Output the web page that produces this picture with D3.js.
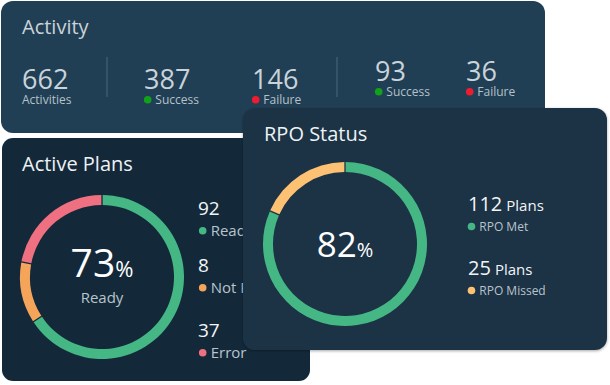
<!DOCTYPE html>
<html>
<head>
<meta charset="utf-8">
<script src="https://cdn.jsdelivr.net/npm/d3@7.9.0/dist/d3.min.js"></script>
<style>
  body { margin: 0; background: #fff; }
  svg { display: block; font-family: "Open Sans", sans-serif; }
</style>
</head>
<body>
<svg width="610" height="385"></svg>
<script>
// activity strip
const activityValues = [662, 387, 146, 93, 36];
const activityLabels = ['Activities', 'Success', 'Failure', 'Success', 'Failure'];
const activityStatus = [null, 'success', 'failure', 'success', 'failure'];

// active plans
const planCategories = ['Ready', 'Not Ready', 'Error'];
const planCounts = [92, 8, 37];
const planRingShare = [66, 12, 22]; // how the ring is split in the picture
const planReadyPct = 73;

// rpo status
const rpoCategories = ['RPO Met', 'RPO Missed'];
const rpoCounts = [112, 25];
const rpoMetPct = 82;

const statusColor = {success: '#12a21a', failure: '#ee1c2e'};
const planColors = ['#45b784', '#f5a55a', '#ef7080'];
const rpoColors = ['#45b784', '#fdc174'];

const svg = d3.select('svg');

const defs = svg.append('defs');
defs.append('filter').attr('id', 'shadow')
    .attr('x', '-10%').attr('y', '-10%').attr('width', '120%').attr('height', '120%')
  .append('feDropShadow')
    .attr('dx', 0).attr('dy', 1).attr('stdDeviation', 1.5)
    .attr('flood-color', '#000').attr('flood-opacity', 0.35);

// ---- Activity panel
const act = svg.append('g');
act.append('rect')
    .attr('x', 1).attr('y', 1).attr('width', 544).attr('height', 132)
    .attr('rx', 12).attr('fill', '#213f54');

act.append('text')
    .attr('x', 22).attr('y', 34)
    .attr('font-size', 20).attr('fill', '#c9d3da')
    .text('Activity');

const activityX = [22, 144, 252, 375, 466];
const activityBase = [89, 89, 89, 81, 81];

[107, 337].forEach(x => {
  act.append('line')
      .attr('x1', x).attr('x2', x).attr('y1', 57).attr('y2', 97)
      .attr('stroke', '#3f5b6f').attr('stroke-width', 1.5);
});

const cells = act.selectAll('g.cell')
  .data(activityValues)
  .join('g')
    .attr('class', 'cell')
    .attr('transform', (d, i) => `translate(${activityX[i]},${activityBase[i]})`);

cells.append('text')
    .attr('font-size', 27).attr('fill', '#c9d3da')
    .text(d => d);

cells.filter((d, i) => activityStatus[i])
  .append('circle')
    .attr('cx', 3.7).attr('cy', 10.7).attr('r', 3.8)
    .attr('fill', (d, i, n) => statusColor[activityStatus[activityValues.indexOf(d)]]);

cells.append('text')
    .attr('x', (d, i) => activityStatus[i] ? 11.3 : 0)
    .attr('y', (d, i) => 15)
    .attr('font-size', 12).attr('fill', '#b5c1ca')
    .text((d, i) => activityLabels[i]);

// ---- Active Plans panel
const ap = svg.append('g');
ap.append('rect')
    .attr('x', 2).attr('y', 138).attr('width', 308).attr('height', 243)
    .attr('rx', 11).attr('fill', '#13293a');

ap.append('text')
    .attr('x', 22).attr('y', 171)
    .attr('font-size', 20).attr('fill', '#eef2f5')
    .text('Active Plans');

const ringArc = d3.arc().innerRadius(72).outerRadius(82);
const planPie = d3.pie().sort(null).padAngle(0.012);

const apRing = ap.append('g').attr('transform', 'translate(102,277)');
apRing.selectAll('path')
  .data(planPie(planRingShare))
  .join('path')
    .attr('d', ringArc)
    .attr('fill', (d, i) => planColors[i]);

const apCenter = apRing.append('text')
    .attr('text-anchor', 'middle').attr('y', 0).attr('fill', '#ffffff');
apCenter.append('tspan').attr('font-size', 39).text(planReadyPct);
apCenter.append('tspan').attr('font-size', 22).text('%');

apRing.append('text')
    .attr('text-anchor', 'middle').attr('y', 26)
    .attr('font-size', 15).attr('fill', '#b8c4cc')
    .text(planReadyPct >= 0 ? planCategories[0] : '');

const planLegendY = [215, 272, 337];
const apLegend = ap.selectAll('g.leg')
  .data(planCounts)
  .join('g')
    .attr('class', 'leg')
    .attr('transform', (d, i) => `translate(198,${planLegendY[i]})`);

apLegend.append('text')
    .attr('font-size', 19).attr('fill', '#f2f5f7')
    .text(d => d);
apLegend.append('circle')
    .attr('cx', 4.7).attr('cy', 15.7).attr('r', 3.8)
    .attr('fill', (d, i) => planColors[i]);
apLegend.append('text')
    .attr('x', 12.7).attr('y', 21)
    .attr('font-size', 15).attr('fill', '#b8c4cc')
    .text((d, i) => planCategories[i]);

// ---- RPO Status panel
const rpo = svg.append('g');
rpo.append('rect')
    .attr('x', 243).attr('y', 108).attr('width', 364).attr('height', 242)
    .attr('rx', 12).attr('fill', '#1e3345')
    .attr('filter', 'url(#shadow)');

rpo.append('text')
    .attr('x', 264).attr('y', 141)
    .attr('font-size', 20).attr('fill', '#eef2f5')
    .text('RPO Status');

const rpoArc = d3.arc().innerRadius(72).outerRadius(82);
const rpoPie = d3.pie().sort(null).padAngle(0.012);

const rpoRing = rpo.append('g').attr('transform', 'translate(345,244)');
rpoRing.selectAll('path')
  .data(rpoPie(rpoCounts))
  .join('path')
    .attr('d', rpoArc)
    .attr('fill', (d, i) => rpoColors[i]);

const rpoCenter = rpoRing.append('text')
    .attr('text-anchor', 'middle').attr('y', 13).attr('fill', '#ffffff');
rpoCenter.append('tspan').attr('font-size', 35).text(rpoMetPct);
rpoCenter.append('tspan').attr('font-size', 20).text('%');

const rpoLegendY = [211, 275];
const rpoLegend = rpo.selectAll('g.leg')
  .data(rpoCounts)
  .join('g')
    .attr('class', 'leg')
    .attr('transform', (d, i) => `translate(468,${rpoLegendY[i]})`);

const rpoNum = rpoLegend.append('text').attr('fill', '#f2f5f7');
rpoNum.append('tspan').attr('font-size', 20).text(d => d);
rpoNum.append('tspan').attr('font-size', 15).attr('dx', 4).text('Plans');

rpoLegend.append('circle')
    .attr('cx', 3.5).attr('cy', 15.5).attr('r', 3.8)
    .attr('fill', (d, i) => rpoColors[i]);
rpoLegend.append('text')
    .attr('x', 11.3).attr('y', 19.5)
    .attr('font-size', 12).attr('fill', '#b8c4cc')
    .text((d, i) => rpoCategories[i]);
</script>
</body>
</html>
